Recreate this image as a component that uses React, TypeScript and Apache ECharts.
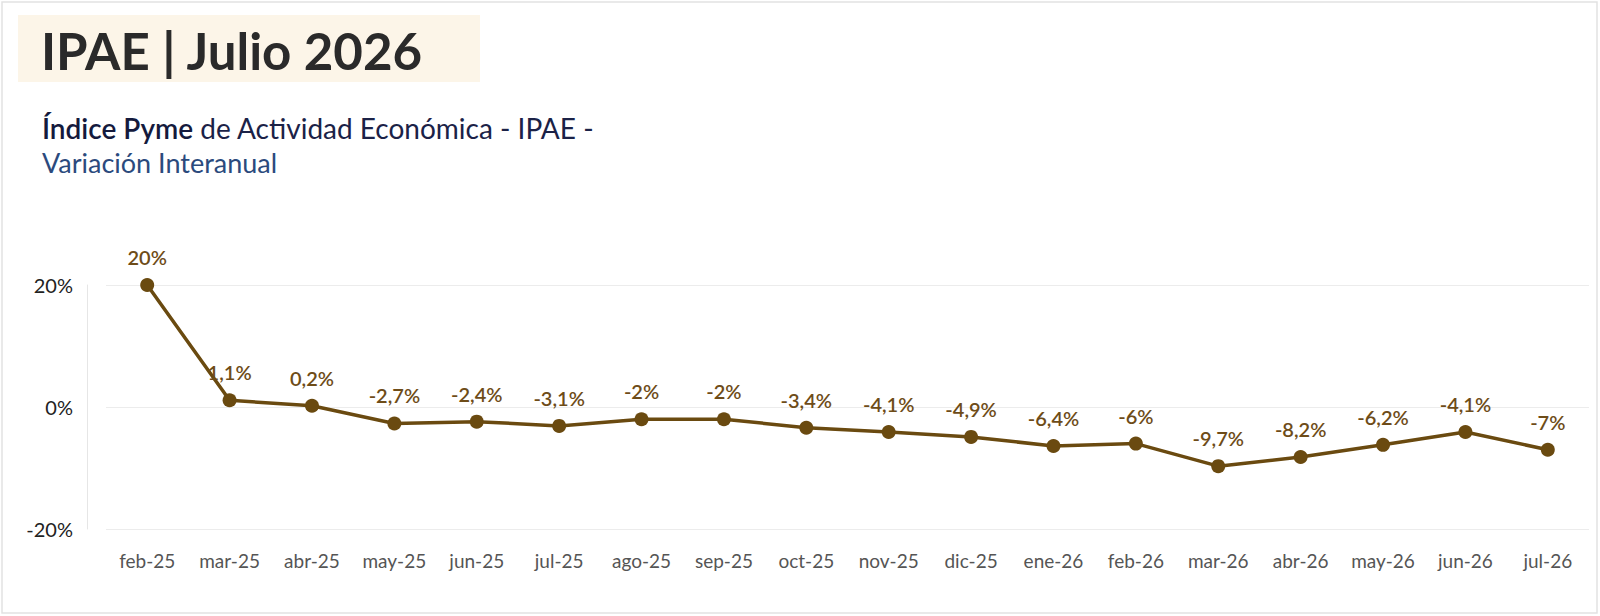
import React, { useEffect, useRef } from "react";
import * as echarts from "echarts";

const categories = [
  "feb-25", "mar-25", "abr-25", "may-25", "jun-25", "jul-25", "ago-25", "sep-25", "oct-25",
  "nov-25", "dic-25", "ene-26", "feb-26", "mar-26", "abr-26", "may-26", "jun-26", "jul-26",
];
const values = [20, 1.1, 0.2, -2.7, -2.4, -3.1, -2, -2, -3.4, -4.1, -4.9, -6.4, -6, -9.7, -8.2, -6.2, -4.1, -7];
const yTicks = [-20, 0, 20];

const FONT = "Lato, 'Noto Sans', sans-serif";

export default function App() {
  const ref = useRef<HTMLDivElement>(null);
  useEffect(() => {
    if (!ref.current) return;
    const chart = echarts.init(ref.current, null, { renderer: "svg" });
    chart.setOption({
      animation: false,
      backgroundColor: "#ffffff",
      textStyle: { fontFamily: FONT },
      graphic: [
        {
          type: "rect",
          shape: { x: 2, y: 2, width: 1595, height: 611 },
          style: { fill: "none", stroke: "#e2e2e2", lineWidth: 1.5 },
          silent: true,
        },
        {
          type: "rect",
          shape: { x: 18, y: 15, width: 462, height: 67 },
          style: { fill: "#fcf5e8" },
          silent: true,
        },
        {
          type: "text",
          x: 41,
          y: 50,
          style: {
            text: "IPAE | Julio 2026",
            font: `bold 51px ${FONT}`,
            fill: "#2a2a2a",
            verticalAlign: "middle",
          },
        },
        {
          type: "text",
          x: 42,
          y: 128,
          style: {
            text: "{b|Índice Pyme}{n| de Actividad Económica - IPAE -}",
            verticalAlign: "middle",
            rich: {
              b: { fontSize: 28, fontWeight: 600, fontFamily: FONT, fill: "#141a3d" },
              n: { fontSize: 28, fontFamily: FONT, fill: "#1b2247" },
            },
          },
        },
        {
          type: "text",
          x: 42,
          y: 162,
          style: {
            text: "Variación Interanual",
            font: `27px ${FONT}`,
            fill: "#2b4a7d",
            verticalAlign: "middle",
          },
        },
      ],
      grid: { left: 106, right: 11, top: 285, height: 244, containLabel: false },
      xAxis: {
        type: "category",
        data: categories,
        boundaryGap: true,
        axisLine: { show: false },
        axisTick: { show: false },
        axisLabel: { color: "#555555", fontSize: 19, margin: 22, interval: 0, fontFamily: FONT },
      },
      yAxis: {
        type: "value",
        min: yTicks[0],
        max: yTicks[yTicks.length - 1],
        interval: 20,
        offset: 19,
        axisLine: { show: true, lineStyle: { color: "#e6e6e6" } },
        axisTick: { show: false },
        splitLine: { show: true, lineStyle: { color: "#ececec", width: 1 } },
        axisLabel: {
          color: "#222222",
          fontSize: 20,
          margin: 14,
          fontFamily: FONT,
          formatter: (v: number) => `${v}%`,
        },
      },
      series: [
        {
          type: "line",
          data: values,
          symbol: "circle",
          symbolSize: 14,
          itemStyle: { color: "#6a4a10" },
          lineStyle: { color: "#6a4a10", width: 3.5 },
          label: {
            show: true,
            position: "top",
            distance: 11,
            color: "#6e4c18",
            fontSize: 20,
            fontWeight: 600,
            fontFamily: FONT,
            formatter: (p: any) => `${String(p.value).replace(".", ",")}%`,
          },
        },
      ],
    });
    return () => chart.dispose();
  }, []);
  return (
    <div
      ref={ref}
      style={{ position: "absolute", left: 0, top: 0, width: 1600, height: 616 }}
    />
  );
}
